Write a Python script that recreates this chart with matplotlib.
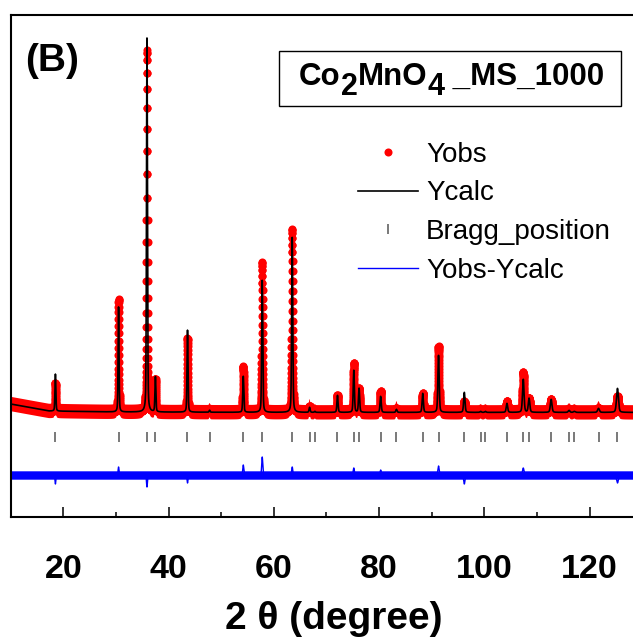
import numpy as np
import matplotlib
matplotlib.use("Agg")
import matplotlib.pyplot as plt
from matplotlib.patches import Rectangle
from matplotlib.ticker import MultipleLocator

# ---------------- data ----------------
bragg_pos = [18.5, 30.5, 35.9, 37.5, 43.6, 47.8, 54.2, 57.8, 63.5, 66.8, 67.8,
             72.1, 75.2, 76.2, 80.3, 83.3, 88.3, 91.3, 96.2, 99.3, 100.2, 104.3,
             107.4, 108.5, 112.7, 116.1, 117.1, 121.7, 125.3]
calc_height = [1850, 5250, 18700, 1750, 4100, 100, 1800, 6600, 8750, 250, 50,
               850, 2100, 1200, 800, 150, 950, 2850, 1000, 50, 50, 450,
               1650, 700, 650, 100, 50, 200, 1200]
obs_height = [1400, 5650, 18100, 1650, 3700, 100, 2300, 7500, 9150, 300, 50,
              850, 2450, 1200, 1050, 200, 950, 3300, 550, 50, 50, 550,
              2000, 700, 650, 100, 50, 200, 800]
peak_fwhm = [0.20, 0.20, 0.21, 0.21, 0.21, 0.22, 0.23, 0.23, 0.24, 0.24, 0.24,
             0.25, 0.26, 0.26, 0.27, 0.27, 0.28, 0.29, 0.30, 0.31, 0.31, 0.32,
             0.34, 0.34, 0.36, 0.37, 0.37, 0.40, 0.42]
bg_pos = [10.0, 17.3, 30.0, 60.0, 130.0]
bg_val = [1650, 1300, 1250, 1230, 1230]
diff_offset = -1900
bragg_level = 0
x_ticks = [20, 40, 60, 80, 100, 120]

# ---------------- profile ----------------
two_theta = np.arange(10.0, 130.0001, 0.01)
background = np.interp(two_theta, bg_pos, bg_val)


def profile(heights):
    y = np.zeros_like(two_theta)
    for p, h, w in zip(bragg_pos, heights, peak_fwhm):
        g = np.exp(-4 * np.log(2) * ((two_theta - p) / w) ** 2)
        lz = 1.0 / (1.0 + 4 * ((two_theta - p) / w) ** 2)
        y += h * (0.65 * g + 0.35 * lz)
    return y


calc_peaks = profile(calc_height)
obs_peaks = profile(obs_height)
y_calc = background + calc_peaks
y_obs = background + obs_peaks
y_diff = y_obs - y_calc + diff_offset

# ---------------- figure ----------------
W, H = 633, 642
fig = plt.figure(figsize=(W / 100, H / 100), dpi=100)
ax_left, ax_right, ax_top, ax_bot = 10.67, 642.2, 15, 517
ax = fig.add_axes([ax_left / W, 1 - ax_bot / H, (ax_right - ax_left) / W, (ax_bot - ax_top) / H])

red = "#ff0000"
blue = "#0000ff"

ax.fill_between(two_theta, y_obs - 360, y_obs + 360, where=obs_peaks < 400,
                color=red, lw=0, zorder=1)
ax.plot(two_theta, y_obs, "o", color=red, ms=5.8, mew=0, label="Yobs", zorder=2)
ax.plot(two_theta, y_calc, "-", color="black", lw=1.2, label="Ycalc", zorder=3)
ax.plot(bragg_pos, [bragg_level] * len(bragg_pos), "|", color="#555555", ms=7.2,
        mew=1.1, label="Bragg_position", zorder=3)
ax.fill_between(two_theta, diff_offset - 210, diff_offset + 210, color=blue, lw=0, zorder=1)
ax.plot(two_theta, y_diff, "-", color=blue, lw=1.0, label="Yobs-Ycalc", zorder=2)

ax.set_xlim(10, 130)
ax.set_ylim(-4000, 21100)
ax.set_yticks([])
ax.set_xticks(x_ticks)
ax.xaxis.set_minor_locator(MultipleLocator(10))
ax.tick_params(axis="x", which="major", direction="in", length=7.2, width=1.1, pad=27,
               labelsize=24.5)
ax.tick_params(axis="x", which="minor", direction="in", length=3.6, width=1.1)
for lab in ax.get_xticklabels():
    lab.set_fontweight("bold")
    lab.set_fontfamily("Liberation Sans")
for s in ax.spines.values():
    s.set_linewidth(1.5)
ax.spines["right"].set_visible(False)

fig.text(334 / W, 1 - 619 / H, "2 θ (degree)", ha="center", va="center",
         fontsize=28, fontweight="bold", family="Liberation Sans")

fig.text(25 / W, 1 - 71 / H, "(B)", ha="left", va="baseline", fontsize=28,
         fontweight="bold", family="Liberation Sans")

fig.add_artist(Rectangle((279 / W, 1 - 106 / H), (621 - 279) / W, 55 / H,
                         transform=fig.transFigure, fill=False, lw=1.0, ec="black"))
base_y = 1 - 85 / H
sub_y = 1 - 95 / H
pieces = [("Co", base_y, 22.5), ("2", sub_y, 22), ("MnO", base_y, 22.5), ("4", sub_y, 22),
          (" _MS_1000", base_y, 22.5)]
prev = None
for txt, yy, fs in pieces:
    if prev is None:
        prev = fig.text(299 / W, yy, txt, ha="left", va="baseline", fontsize=fs,
                        fontweight="bold", family="Liberation Sans")
    else:
        prev = ax.annotate(txt, xy=(1, yy), xycoords=(prev, "figure fraction"),
                           ha="left", va="baseline", fontsize=fs, fontweight="bold",
                           family="Liberation Sans", annotation_clip=False)

leg = ax.legend(loc="upper left", bbox_to_anchor=(358 / W, 1 - 142 / H),
                bbox_transform=fig.transFigure, frameon=False,
                prop={"family": "Liberation Sans", "size": 20}, handlelength=2.15,
                handletextpad=0.3, labelspacing=0.45, borderpad=0, borderaxespad=0,
                numpoints=1)

fig.savefig("out.png", dpi=100)
